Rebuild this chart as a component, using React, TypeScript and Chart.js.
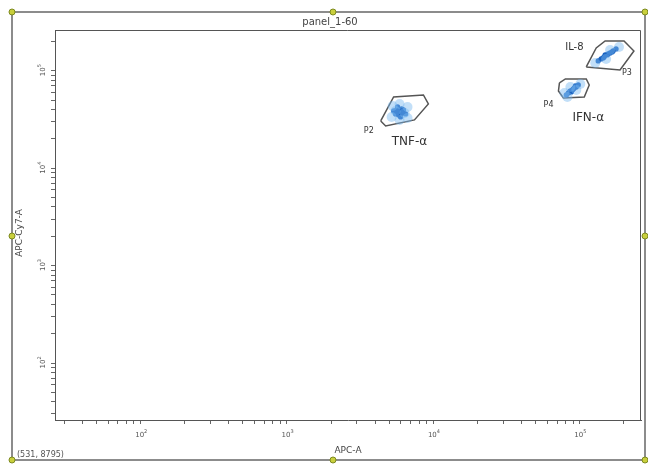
import React, { useEffect, useRef } from 'react';
import { Chart, registerables } from 'chart.js';
Chart.register(...registerables);

const TITLE = 'panel_1-60';
const X_LABEL = 'APC-A';
const Y_LABEL = 'APC-Cy7-A';
const CORNER_TEXT = '(531, 8795)';
const AXIS_MIN = 26;
const AXIS_MAX = 262144;

const TICK_VALUES = [
  30, 40, 50, 60, 70, 80, 90,
  100, 200, 300, 400, 500, 600, 700, 800, 900,
  1000, 2000, 3000, 4000, 5000, 6000, 7000, 8000, 9000,
  10000, 20000, 30000, 40000, 50000, 60000, 70000, 80000, 90000,
  100000, 200000,
];
const DECADE_VALUES = [100, 1000, 10000, 100000];
const DECADE_EXPONENTS = ['2', '3', '4', '5'];

// Gates (closed polygons)
const P2_GATE_X = [4368, 5351, 8551, 9243, 7426, 4722, 4368];
const P2_GATE_Y = [30530, 53850, 56470, 45630, 31280, 27120, 30530];
const P3_GATE_X = [110800, 129600, 149100, 200700, 234500, 188500, 110800];
const P3_GATE_Y = [109500, 171500, 202400, 202400, 159700, 102000, 109500];
const P4_GATE_X = [72670, 79800, 110800, 116100, 107400, 77350, 71550, 72670];
const P4_GATE_Y = [74980, 82450, 82450, 71530, 53850, 52600, 62060, 74980];

// Event clusters: core (dense) and halo (sparse)
const CORE_X = [
  5876, 5608, 6159, 5788, 6063, 5520, 6256, 5696, 5969, 5351, 6456,
  81070, 83670, 86290, 89030, 91860, 94770, 97790, 87670, 90430, 84970, 93310,
  133600, 140000, 146800, 153800, 161200, 168900, 177100, 144500, 156200, 166300, 149100,
];
const CORE_Y = [
  37780, 39600, 36890, 35180, 40560, 36030, 39600, 42540, 33560, 38690, 36030,
  56470, 59200, 62060, 63540, 66640, 68220, 71530, 60630, 65050, 60630, 69840,
  126100, 132300, 138700, 145300, 152400, 159700, 167600, 135400, 148800, 156000, 145300,
];
const HALO_X = [
  5268, 6660, 5187, 6660, 5876, 5876, 5520, 6355,
  78600, 82370, 100900, 94770, 86290,
  127600, 185500, 151400, 161200,
];
const HALO_Y = [
  43530, 42540, 33560, 32780, 45630, 31280, 38690, 36890,
  59200, 53850, 73240, 63540, 68220,
  120300, 175600, 132300, 163600,
];

// Gate annotations
const NOTE_TEXT = ['P2', 'TNF-α', 'IL-8', 'P3', 'P4', 'IFN-α'];
const NOTE_X = [3619, 6870, 91860, 210300, 61200, 114300];
const NOTE_Y = [24100, 18590, 175600, 94980, 44560, 32780];
const NOTE_SIZE = [8, 12, 10, 8, 8, 12];

const toPts = (xs: number[], ys: number[]) => xs.map((x, i) => ({ x, y: ys[i] }));

const overlay = {
  id: 'overlay',
  afterDraw(chart: any) {
    const { ctx, chartArea: a, scales } = chart;
    const xs = scales.x;
    const ys = scales.y;
    ctx.save();
    ctx.strokeStyle = '#555';
    ctx.lineWidth = 1;
    ctx.beginPath();
    ctx.moveTo(a.left, a.top + 0.5);
    ctx.lineTo(a.right - 0.5, a.top + 0.5);
    ctx.lineTo(a.right - 0.5, a.bottom);
    ctx.stroke();

    ctx.strokeStyle = '#8c8c8c';
    ctx.lineWidth = 2;
    ctx.strokeRect(12, 12, 633, 448);

    ctx.fillStyle = '#555';
    ctx.textBaseline = 'alphabetic';
    DECADE_VALUES.forEach((v, i) => {
      const px = xs.getPixelForValue(v);
      ctx.font = '7px "DejaVu Sans"';
      ctx.textAlign = 'left';
      const w = ctx.measureText('10').width;
      ctx.fillText('10', px - w / 2 - 1, a.bottom + 17);
      ctx.font = '5px "DejaVu Sans"';
      ctx.fillText(DECADE_EXPONENTS[i], px + w / 2 - 1, a.bottom + 13);

      const py = ys.getPixelForValue(v);
      ctx.save();
      ctx.translate(a.left - 10, py);
      ctx.rotate(-Math.PI / 2);
      ctx.font = '7px "DejaVu Sans"';
      ctx.fillText('10', -w / 2 - 1, 0);
      ctx.font = '5px "DejaVu Sans"';
      ctx.fillText(DECADE_EXPONENTS[i], w / 2 - 1, -4);
      ctx.restore();
    });

    ctx.fillStyle = '#444';
    ctx.textAlign = 'center';
    ctx.textBaseline = 'middle';
    ctx.font = '10px "DejaVu Sans"';
    ctx.fillText(TITLE, 330, 22);
    ctx.font = '9px "DejaVu Sans"';
    ctx.fillText(X_LABEL, (a.left + a.right) / 2, 451);
    ctx.save();
    ctx.translate(20, 233);
    ctx.rotate(-Math.PI / 2);
    ctx.fillText(Y_LABEL, 0, 0);
    ctx.restore();
    ctx.textAlign = 'left';
    ctx.font = '8px "DejaVu Sans"';
    ctx.fillStyle = '#555';
    ctx.fillText(CORNER_TEXT, 17, 455);

    ctx.fillStyle = '#333';
    ctx.textAlign = 'center';
    NOTE_TEXT.forEach((t, i) => {
      ctx.font = `${NOTE_SIZE[i]}px "DejaVu Sans"`;
      ctx.fillText(t, xs.getPixelForValue(NOTE_X[i]), ys.getPixelForValue(NOTE_Y[i]));
    });

    const handles = [
      [12, 12], [333, 12], [645, 12],
      [12, 236], [645, 236],
      [12, 460], [333, 460], [645, 460],
    ];
    handles.forEach(([hx, hy]) => {
      ctx.fillStyle = '#c9cf3c';
      ctx.strokeStyle = '#7d8a20';
      ctx.lineWidth = 1;
      ctx.beginPath();
      ctx.arc(hx, hy, 3, 0, Math.PI * 2);
      ctx.fill();
      ctx.stroke();
    });
    ctx.restore();
  },
};

const axisBase = (fit: (s: any) => void) => ({
  type: 'logarithmic' as const,
  min: AXIS_MIN,
  max: AXIS_MAX,
  afterBuildTicks: (s: any) => {
    s.ticks = TICK_VALUES.map((v) => ({ value: v }));
  },
  afterFit: fit,
  ticks: { display: false, autoSkip: false },
  grid: {
    display: true,
    drawOnChartArea: false,
    drawTicks: true,
    tickLength: 4,
    color: '#666',
  },
  border: { display: true, color: '#555', width: 1 },
  title: { display: false },
});

export default function App() {
  const ref = useRef<HTMLCanvasElement>(null);
  useEffect(() => {
    const chart = new Chart(ref.current!, {
      type: 'scatter',
      data: {
        datasets: [
          {
            data: toPts(HALO_X, HALO_Y),
            pointRadius: 5,
            pointBackgroundColor: 'rgba(120,185,240,0.45)',
            pointBorderWidth: 0,
          },
          {
            data: toPts(CORE_X, CORE_Y),
            pointRadius: 2.6,
            pointBackgroundColor: '#1a62c0',
            pointBorderWidth: 0,
          },
          ...[
            toPts(P2_GATE_X, P2_GATE_Y),
            toPts(P3_GATE_X, P3_GATE_Y),
            toPts(P4_GATE_X, P4_GATE_Y),
          ].map((d) => ({
            data: d,
            showLine: true,
            pointRadius: 0,
            borderColor: '#555',
            borderWidth: 1.5,
            tension: 0,
            fill: false,
          })),
        ],
      },
      options: {
        responsive: false,
        animation: false,
        devicePixelRatio: 1,
        layout: { padding: { left: 0, top: 30, right: 7, bottom: 0 } },
        plugins: { legend: { display: false }, tooltip: { enabled: false } },
        scales: {
          x: axisBase((s: any) => { s.height = 44; }),
          y: axisBase((s: any) => { s.width = 55; }),
        },
      },
      plugins: [overlay],
    });
    return () => chart.destroy();
  }, []);
  return (
    <div style={{ position: 'absolute', left: 0, top: 0, width: 648, height: 464, background: '#fff' }}>
      <canvas ref={ref} width={648} height={464} />
    </div>
  );
}
